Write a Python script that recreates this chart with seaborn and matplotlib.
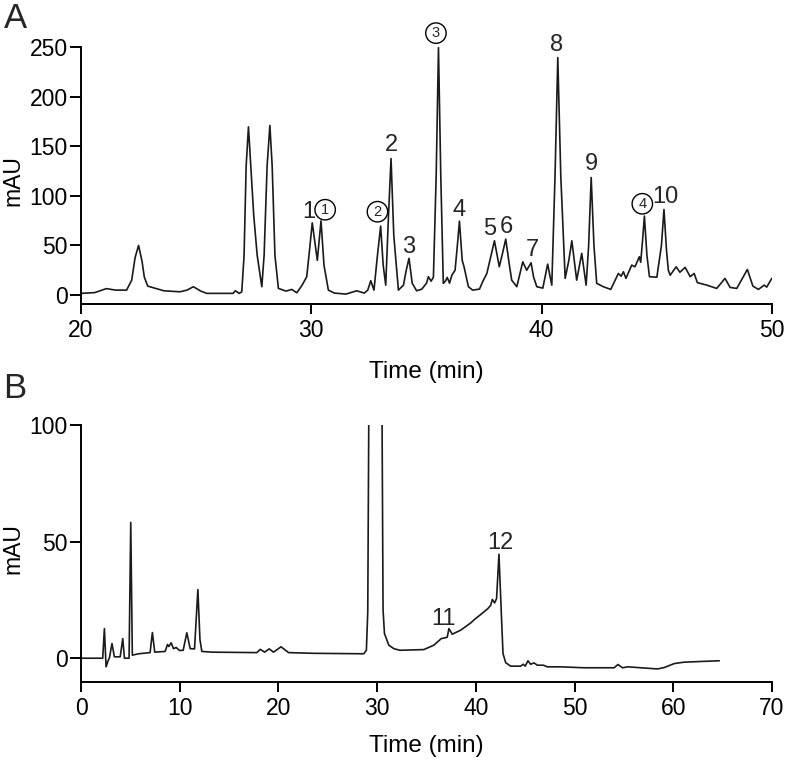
import matplotlib
matplotlib.use("Agg")
import matplotlib.pyplot as plt
import seaborn as sns

# Panel A chromatogram (time in min, signal in mAU)
time_a = [20.0, 20.6, 21.1, 21.5, 21.98, 22.2, 22.35, 22.5, 22.65, 22.75, 22.9, 23.6, 24.3, 24.6, 24.88,
          25.2, 25.46, 26.6, 26.7, 26.87, 26.98, 27.08, 27.17, 27.27, 27.37, 27.5, 27.65, 27.85,
          27.95, 28.08, 28.2, 28.3, 28.42, 28.57, 28.9, 29.15, 29.37, 29.6, 29.8, 29.92, 30.04,
          30.26, 30.42, 30.55, 30.74, 31.0, 31.5, 31.97, 32.3, 32.45, 32.58, 32.72, 32.87, 33.01,
          33.12, 33.23, 33.35, 33.46, 33.58, 33.78, 34.0, 34.12, 34.24, 34.38, 34.57, 34.8, 35.0,
          35.08, 35.2, 35.3, 35.42, 35.52, 35.62, 35.73, 35.82, 35.9, 36.0, 36.1, 36.24, 36.34,
          36.43, 36.55, 36.63, 36.82, 37.0, 37.3, 37.45, 37.62, 37.8, 37.95, 38.16, 38.3, 38.44,
          38.6, 38.7, 38.92, 39.18, 39.35, 39.54, 39.65, 39.79, 40.05, 40.26, 40.44, 40.58, 40.7,
          40.83, 41.02, 41.18, 41.31, 41.52, 41.64, 41.74, 41.93, 42.04, 42.15, 42.27, 42.39,
          42.68, 43.0, 43.33, 43.45, 43.55, 43.66, 43.91, 44.05, 44.24, 44.3, 44.38, 44.46, 44.57,
          44.68, 45.0, 45.2, 45.31, 45.42, 45.5, 45.58, 45.84, 46.0, 46.23, 46.45, 46.62, 46.76,
          47.17, 47.6, 47.96, 48.18, 48.47, 48.93, 49.17, 49.41, 49.66, 49.77, 49.99]
mau_a = [1.7, 2.5, 6.5, 5.0, 5.0, 15, 38, 50, 34, 18, 9, 4.3, 3.3, 5, 8.4,
         4, 1.7, 1.7, 4.3, 1.7, 3.3, 40, 130, 169.5, 130, 80, 40, 8.4,
         40, 130, 171, 130, 40, 6.7, 4, 5.7, 2.3, 10, 18.5, 45, 72.8,
         35, 74.8, 30, 5, 2, 1, 4.3, 2, 5, 14.4, 5, 40, 69.5,
         30, 10, 80, 137.6, 60, 5, 10, 25, 37, 12, 4.3, 6, 12,
         18.5, 14, 18, 120, 249.4, 120, 11.8, 14, 17.8, 12, 20, 25, 50,
         74.5, 35, 28.5, 8.4, 5, 6, 14, 21.8, 40, 54.7, 28.5, 42, 56.4,
         30, 15, 8.4, 33.5, 25, 32.5, 18, 8.4, 7, 31.2, 10, 120, 239.4,
         120, 16.8, 35, 54.7, 15, 30, 42, 10, 50, 118.5, 50, 11.8,
         8.4, 5.7, 21.8, 19, 23.5, 16.8, 30.2, 28.5, 38.6, 33, 55, 79.6, 40,
         18.5, 18, 50, 86.3, 45, 25, 20, 28.5, 23, 27.9, 18.5, 21.8, 12.5,
         10, 6.7, 16.8, 7.7, 6.7, 25.8, 9, 5.7, 10, 8, 16.8]

# Panel B chromatogram (the big peak near 30 min runs off the top)
time_b = [0.07, 2.2, 2.37, 2.54, 2.75, 2.87, 3.14, 3.38, 3.97, 4.23, 4.4, 4.87, 5.04, 5.2, 5.82,
          7.0, 7.23, 7.47, 8.52, 8.76, 8.9, 9.13, 9.37, 9.64, 9.98, 10.35, 10.72, 11.06, 11.5,
          11.84, 12.05, 12.24, 13.3, 17.82, 18.16, 18.6, 19.07, 19.5, 20.26, 21.03, 23.57, 28.64,
          28.91, 29.05, 29.15, 29.8, 30.5, 30.6, 30.74, 31.18, 31.69, 32.3, 34.73, 35.75, 36.49,
          36.83, 37.1, 37.27, 37.61, 38.45, 39.47, 39.97, 40.48, 41.22, 41.5, 41.67, 41.9, 42.1,
          42.34, 42.58, 42.75, 43.02, 43.52, 44.54, 44.8, 45.0, 45.28, 45.55, 45.89, 46.23, 46.84,
          47.24, 48.6, 50.96, 54.0, 54.4, 54.85, 55.4, 58.4, 59.08, 60.1, 61.1, 62.8, 64.66]
mau_b = [0, 0, 12.7, -3.7, -1, 0, 6.3, 0.6, 0.6, 8.4, 0, 0, 58.2, 1.3, 1.9,
         2.4, 11, 2.6, 2.9, 5.9, 5, 6.6, 4.1, 4.6, 3.3, 3.4, 10.9, 4.1, 4,
         29.4, 8, 2.9, 2.6, 2.4, 3.8, 2.6, 4.0, 2.6, 4.9, 2.4, 2.1, 1.9,
         3.4, 20, 100, 1500, 100, 20.6, 10.6, 5.6, 4.1, 3.4, 3.7, 5.6, 8.4,
         8.7, 9, 12.7, 10.3, 12, 15.1, 17, 18.7, 21.3, 22.7, 25.2, 23.7, 25.6,
         44.6, 19.2, 2, -1.9, -3.4, -3.4, -2.6, -3.4, -1.1, -2.6, -2, -3, -3,
         -3.7, -3.7, -4.1, -4.1, -2.7, -4.1, -3.7, -4.6, -4, -2.3, -1.7, -1.4, -1.1]

# peak labels: plain numbers and circled numbers
labels_a = ["1", "2", "3", "4", "5", "6", "7", "8", "9", "10"]
label_t_a = [29.87, 33.46, 34.24, 36.43, 37.76, 38.45, 39.61, 40.65, 42.17, 45.36]
label_v_a = [84, 151, 48, 86, 67, 69, 45, 252, 132, 99]
circled_a = ["1", "2", "3", "4"]
circled_t_a = [30.6, 32.87, 35.41, 44.37]
circled_v_a = [86, 84, 264, 92]
labels_b = ["11", "12"]
label_t_b = [36.76, 42.44]
label_v_b = [17, 49.4]

sns.set_theme(style="ticks")
plt.rcParams['font.family'] = ['Liberation Sans', 'DejaVu Sans']

W, H = 787, 762
fig = plt.figure(figsize=(W / 100, H / 100), dpi=100)
ax_a = fig.add_axes([81 / W, 1 - 304 / H, 691 / W, 257 / H])
ax_b = fig.add_axes([81 / W, 1 - 682 / H, 691 / W, 257 / H])

line_kw = dict(color="#1a1a1a", linewidth=1.2, estimator=None, sort=False)
sns.lineplot(x=time_a, y=mau_a, ax=ax_a, **line_kw)
sns.lineplot(x=time_b, y=mau_b, ax=ax_b, **line_kw)

ax_a.set_xlim(20, 50)
ax_a.set_ylim(-9, 250)
ax_a.set_xticks([20, 30, 40, 50])
ax_a.set_yticks([0, 50, 100, 150, 200, 250])

ax_b.set_xlim(0, 70)
ax_b.set_ylim(-10.2, 100)
ax_b.set_xticks(range(0, 71, 10))
ax_b.set_yticks([0, 50, 100])

for ax, ylab_y in [(ax_a, 0.48), (ax_b, 0.52)]:
    sns.despine(ax=ax)
    for side in ["left", "bottom"]:
        ax.spines[side].set_linewidth(1.4)
        ax.spines[side].set_color("black")
    ax.tick_params(axis="x", length=7, width=1.4, pad=4, labelsize=16.5, colors="black")
    ax.tick_params(axis="y", length=8, width=1.4, pad=1.5, labelsize=16.5, colors="black")
    ax.set_xlabel("Time (min)", fontsize=17.5, color="black")
    ax.set_ylabel("mAU", fontsize=16.5, color="black")
    ax.yaxis.set_label_coords(-0.082, ylab_y)

ax_a.xaxis.set_label_coords(0.5, -0.222)
ax_b.xaxis.set_label_coords(0.5, -0.207)

for s, t, v in zip(labels_a, label_t_a, label_v_a):
    ax_a.text(t, v, s, fontsize=17, ha="center", va="center", clip_on=False)
for s, t, v in zip(circled_a, circled_t_a, circled_v_a):
    ax_a.text(t, v, s, fontsize=10.5, ha="center", va="center", clip_on=False,
              bbox=dict(boxstyle="circle,pad=0.22", fc="none", ec="black", lw=1))
for s, t, v in zip(labels_b, label_t_b, label_v_b):
    ax_b.text(t, v, s, fontsize=17, ha="center", va="center")

fig.text(15 / W, 1 - 18 / H, "A", fontsize=25, ha="center", va="center")
fig.text(15 / W, 1 - 388 / H, "B", fontsize=25, ha="center", va="center")

fig.savefig("out.png", dpi=100)
